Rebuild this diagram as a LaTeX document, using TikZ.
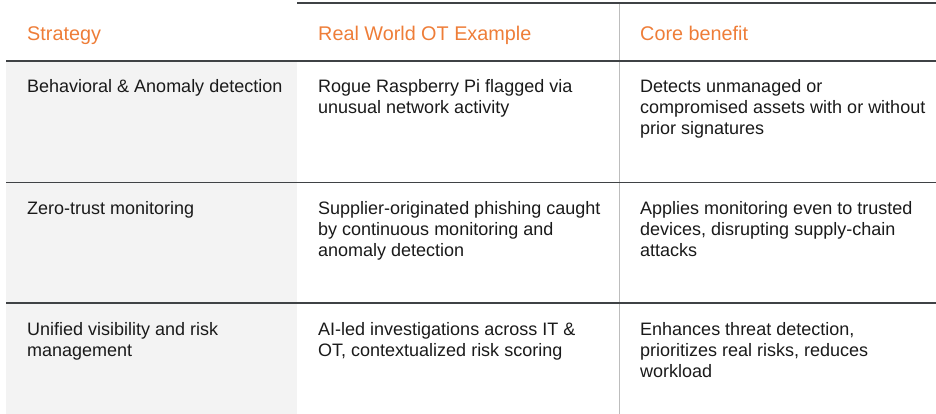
\documentclass[tikz,border=0pt]{standalone}
\usepackage{fontspec}
\setmainfont{Liberation Sans}
\definecolor{hdrorange}{HTML}{EE7D38}
\definecolor{cellgray}{HTML}{F3F3F3}
\definecolor{rulegray}{HTML}{3F4245}
\definecolor{vgray}{HTML}{BDBDBD}
\definecolor{txt}{HTML}{1A1A1A}
\newcommand{\celltext}[1]{\begin{tabular}[t]{@{}l@{}}#1\end{tabular}}
\tikzset{
  hdr/.style={anchor=base west, inner sep=0pt, text=hdrorange, font=\fontsize{19.8}{23}\selectfont},
  cell/.style={anchor=base west, inner sep=0pt, text=txt, font=\fontsize{18}{21.2}\selectfont},
  hrule/.style={draw=rulegray, line width=1.4pt},
  vrule/.style={draw=vgray, line width=0.9pt},
}
\begin{document}
\begin{tikzpicture}[x=1pt,y=-1pt]
\useasboundingbox (0,0) rectangle (936,414);
\fill[cellgray] (6,61) rectangle (297,414);
% coordinates
\coordinate (t1) at (297,3);
\coordinate (t2) at (936,3);
\coordinate (h1) at (6,61);
\coordinate (h2) at (936,61);
\coordinate (r1a) at (6,182.5);
\coordinate (r1b) at (936,182.5);
\coordinate (r2a) at (6,303);
\coordinate (r2b) at (936,303);
\coordinate (v1) at (619,3);
\coordinate (v2) at (619,414);
\draw[vrule] (v1) -- (v2);
\draw[hrule] (t1) -- (t2);
\draw[hrule] (h1) -- (h2);
\draw[hrule] (r1a) -- (r1b);
\draw[hrule] (r2a) -- (r2b);
% header
\node[hdr] (hA) at (27,40.5) {Strategy};
\node[hdr] (hB) at (318,40.5) {Real World OT Example};
\node[hdr] (hC) at (640,40.5) {Core benefit};
% row 1
\node[cell] (a1) at (27,92.5) {\celltext{Behavioral \& Anomaly detection}};
\node[cell] (b1) at (318,92.5) {\celltext{Rogue Raspberry Pi flagged via\\unusual network activity}};
\node[cell] (c1) at (640,92.5) {\celltext{Detects unmanaged or\\compromised assets with or without\\prior signatures}};
% row 2
\node[cell] (a2) at (27,214.5) {\celltext{Zero-trust monitoring}};
\node[cell] (b2) at (318,214.5) {\celltext{Supplier-originated phishing caught\\by continuous monitoring and\\anomaly detection}};
\node[cell] (c2) at (640,214.5) {\celltext{Applies monitoring even to trusted\\devices, disrupting supply-chain\\attacks}};
% row 3
\node[cell] (a3) at (27,335.5) {\celltext{Unified visibility and risk\\management}};
\node[cell] (b3) at (318,335.5) {\celltext{AI-led investigations across IT \&\\OT, contextualized risk scoring}};
\node[cell] (c3) at (640,335.5) {\celltext{Enhances threat detection,\\prioritizes real risks, reduces\\workload}};
\end{tikzpicture}
\end{document}
